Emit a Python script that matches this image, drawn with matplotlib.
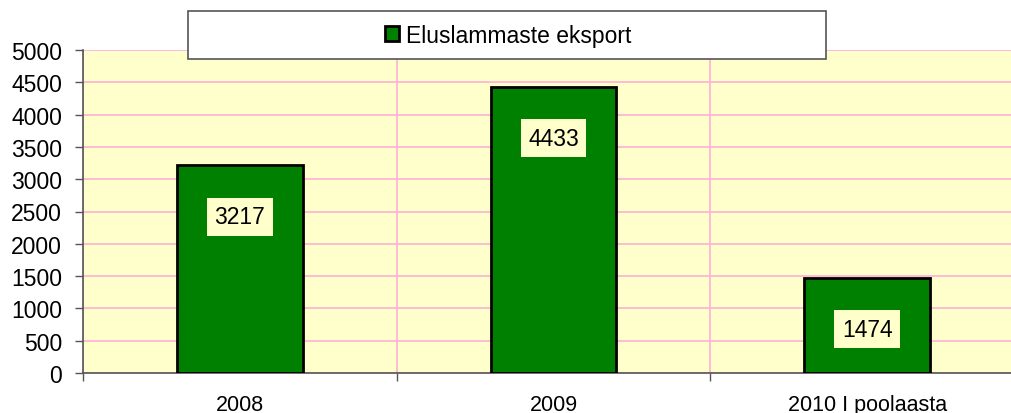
import matplotlib.pyplot as plt
from matplotlib.patches import Rectangle
from matplotlib.ticker import FixedLocator, NullFormatter

categories = ['2008', '2009', '2010 I poolaasta']
values = [3217, 4433, 1474]
series_name = 'Eluslammaste eksport'
y_ticks = list(range(0, 5001, 500))

plt.rcParams['font.family'] = ['Liberation Sans', 'DejaVu Sans']

W, H = 1012, 414
fig = plt.figure(figsize=(W / 100, H / 100), dpi=100)
ax = fig.add_axes([83 / W, 40 / H, 941 / W, 323 / H])
ax.set_facecolor('#ffffcc')

x = list(range(len(categories)))
bars = ax.bar(x, values, width=0.4, color='#008000', edgecolor='black',
              linewidth=2, label=series_name, zorder=3)

ax.set_xlim(-0.5, len(categories) - 0.5)
ax.set_ylim(0, 5000)
ax.set_yticks(y_ticks)
ax.tick_params(axis='y', labelsize=16.5, length=6, width=1, color='#555555', pad=9)

# category boundaries carry ticks and vertical grid, labels sit at centers
ax.xaxis.set_major_locator(FixedLocator([i - 0.5 for i in range(len(categories) + 1)]))
ax.xaxis.set_major_formatter(NullFormatter())
ax.xaxis.set_minor_locator(FixedLocator(x))
ax.set_xticklabels(categories, minor=True)
ax.tick_params(axis='x', which='major', length=6, width=1, color='#555555')
ax.tick_params(axis='x', which='minor', length=0, labelsize=15.5, pad=15)

ax.grid(True, which='major', color='#ffb0d8', linewidth=1.2, zorder=0)
ax.set_axisbelow(True)
for s in ['top', 'right']:
    ax.spines[s].set_visible(False)
for s in ['left', 'bottom']:
    ax.spines[s].set_color('#555555')
    ax.spines[s].set_linewidth(1.2)

# value labels inside the top of each bar
for b, v in zip(bars, values):
    ax.annotate(str(v), xy=(b.get_x() + b.get_width() / 2, v), xytext=(0, -37),
                textcoords='offset points', ha='center', va='center', fontsize=16.5,
                zorder=4,
                bbox=dict(boxstyle='square,pad=0.33', fc='#ffffcc', ec='none'))

# legend box at the top
fig.patches.append(Rectangle((188 / W, (H - 60) / H), 638 / W, 48 / H,
                             transform=fig.transFigure, fc='white', ec='#555555',
                             lw=1.2, zorder=5))
fig.legend(handles=[bars], labels=[series_name], loc='center',
           bbox_to_anchor=(508 / W, (H - 36) / H), frameon=False, fontsize=16.5,
           handlelength=0.6, handleheight=0.6, handletextpad=0.3)

fig.savefig('out.png', dpi=100)
